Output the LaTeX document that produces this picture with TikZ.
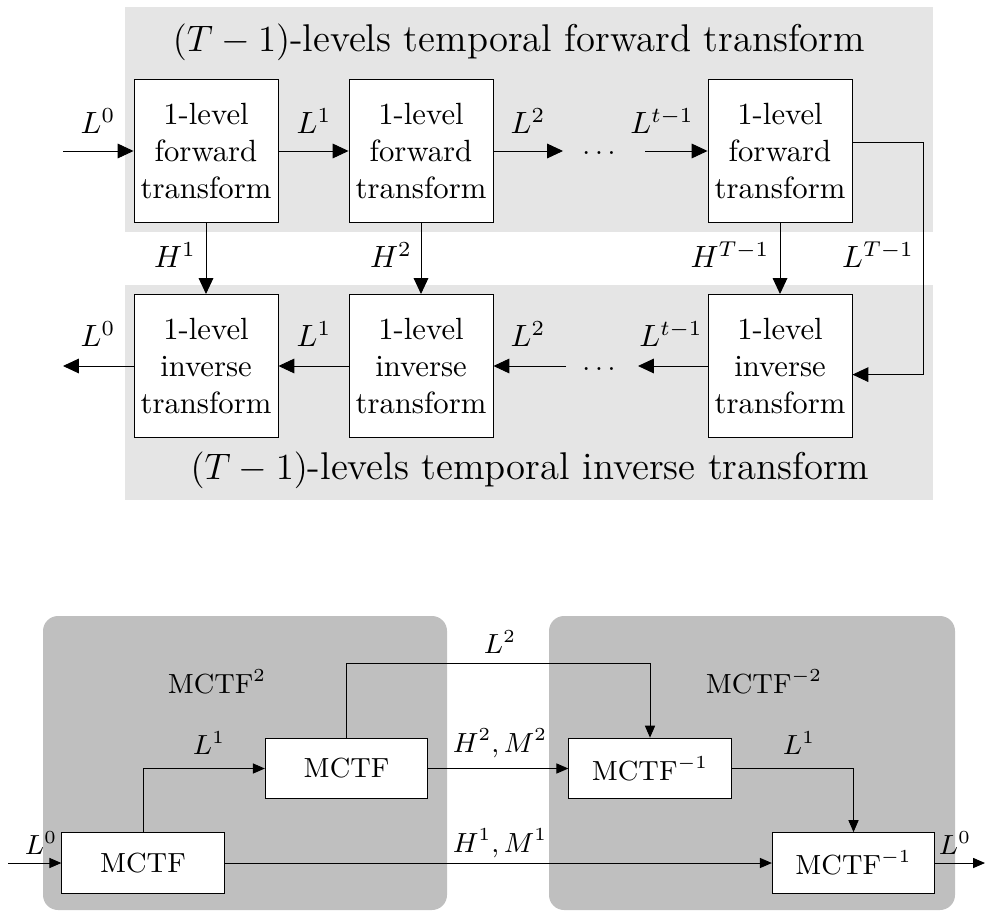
\documentclass[tikz,border=0pt]{standalone}
\usetikzlibrary{arrows.meta}
\begin{document}
\begin{tikzpicture}[x=0.3257pt,y=-0.3257pt,
  arr/.style={-{Triangle[length=5.2pt,width=4.8pt]}, line width=0.3pt},
  sarr/.style={-{Triangle[length=3.9pt,width=3.3pt]}, line width=0.3pt},
  bigbox/.style={draw, fill=white, line width=0.3pt, minimum width=46.9pt, minimum height=46.6pt, inner sep=0pt, align=center},
  smallbox/.style={draw, fill=white, line width=0.3pt, minimum width=52.9pt, minimum height=19.8pt, inner sep=0pt, font=\small},
  lbl/.style={inner sep=0pt},
  dotlbl/.style={inner sep=0pt, font=\small, anchor=base},
  slbl/.style={inner sep=0pt, font=\small},
  ttl/.style={inner sep=0pt, font=\fontsize{12.6pt}{15pt}\selectfont}]
\useasboundingbox (0,0) rectangle (985,911);
% backgrounds
\fill[black!10] (125,7) rectangle (933,232);
\fill[black!10] (125,285) rectangle (933,500);
\fill[black!25, rounded corners=4.9pt] (43,616) rectangle (447,910);
\fill[black!25, rounded corners=4.9pt] (549,616) rectangle (955,910);
% titles
\node[ttl] (tf) at (519,42) {$(T-1)$-levels temporal forward transform};
\node[ttl] (ti) at (530,470) {$(T-1)$-levels temporal inverse transform};
% forward boxes
\node[bigbox] (f1) at (206,151) {1-level\\forward\\transform};
\node[bigbox] (f2) at (421,151) {1-level\\forward\\transform};
\node[bigbox] (f3) at (780,151) {1-level\\forward\\transform};
% inverse boxes
\node[bigbox] (i1) at (206,366) {1-level\\inverse\\transform};
\node[bigbox] (i2) at (421,366) {1-level\\inverse\\transform};
\node[bigbox] (i3) at (780,366) {1-level\\inverse\\transform};
% coordinates
\coordinate (fin) at (63,151);
\coordinate (fo2) at (563,151);
\coordinate (fi3) at (645,151);
\coordinate (iout) at (63,366);
\coordinate (ii2) at (566,366);
\coordinate (io3) at (638,366);
\coordinate (rc) at (923,250);
\node[dotlbl] (fd) at (599,154.5) {$\ldots$};
\node[dotlbl] (id) at (599,370) {$\ldots$};
% forward arrows
\draw[arr] (fin) -- (f1.west);
\draw[arr] (f1.east) -- (f2.west);
\draw[arr] (f2.east) -- (fo2);
\draw[arr] (fi3) -- (f3.west);
% vertical arrows
\draw[arr] (f1.south) -- (i1.north);
\draw[arr] (f2.south) -- (i2.north);
\draw[arr] (f3.south) -- (i3.north);
% right return
\draw[arr] ([yshift=2.8pt]f3.east) -| (rc) |- ([yshift=-2.8pt]i3.east);
% inverse arrows
\draw[arr] (i1.west) -- (iout);
\draw[arr] (i2.west) -- (i1.east);
\draw[arr] (ii2) -- (i2.east);
\draw[arr] (i3.west) -- (io3);
% top labels
\node[lbl] (lf0) at (98,121) {$L^0$};
\node[lbl] (lf1) at (314,121) {$L^1$};
\node[lbl] (lf2) at (528,121) {$L^2$};
\node[lbl] (lft) at (662,121) {$L^{t-1}$};
\node[lbl] (h1) at (175,255) {$H^1$};
\node[lbl] (h2) at (391,255) {$H^2$};
\node[lbl] (ht) at (730,255) {$H^{T-1}$};
\node[lbl] (lt) at (878,255) {$L^{T-1}$};
\node[lbl] (li0) at (98,334) {$L^0$};
\node[lbl] (li1) at (314,334) {$L^1$};
\node[lbl] (li2) at (528,334) {$L^2$};
\node[lbl] (lit) at (671,334) {$L^{t-1}$};
% bottom section
\node[smallbox] (b1) at (143,863) {MCTF};
\node[smallbox] (b2) at (346.5,768.5) {MCTF};
\node[smallbox] (b3) at (650,768.5) {MCTF$^{-1}$};
\node[smallbox] (b4) at (853.5,863) {MCTF$^{-1}$};
\node[slbl] (m2) at (217,682) {MCTF$^2$};
\node[slbl] (mm2) at (764,682) {MCTF$^{-2}$};
\coordinate (bin) at (8,863);
\coordinate (bout) at (985,863);
\coordinate (top) at (346.5,663);
\draw[sarr] (bin) -- (b1.west);
\draw[sarr] (b1.north) |- (b2.west);
\draw[sarr] (b2.north) -- (top) -| (b3.north);
\draw[sarr] (b2.east) -- (b3.west);
\draw[sarr] (b1.east) -- (b4.west);
\draw[sarr] (b3.east) -| (b4.north);
\draw[sarr] (b4.east) -- (bout);
\node[slbl] (bl0) at (41,843) {$L^0$};
\node[slbl] (bl1) at (209,743) {$L^1$};
\node[slbl] (bl2) at (500,642) {$L^2$};
\node[slbl] (bhm2) at (500,743) {$H^2, M^2$};
\node[slbl] (bhm1) at (500,843) {$H^1, M^1$};
\node[slbl] (bl1r) at (799,743) {$L^1$};
\node[slbl] (bl0r) at (955,843) {$L^0$};
\end{tikzpicture}
\end{document}
